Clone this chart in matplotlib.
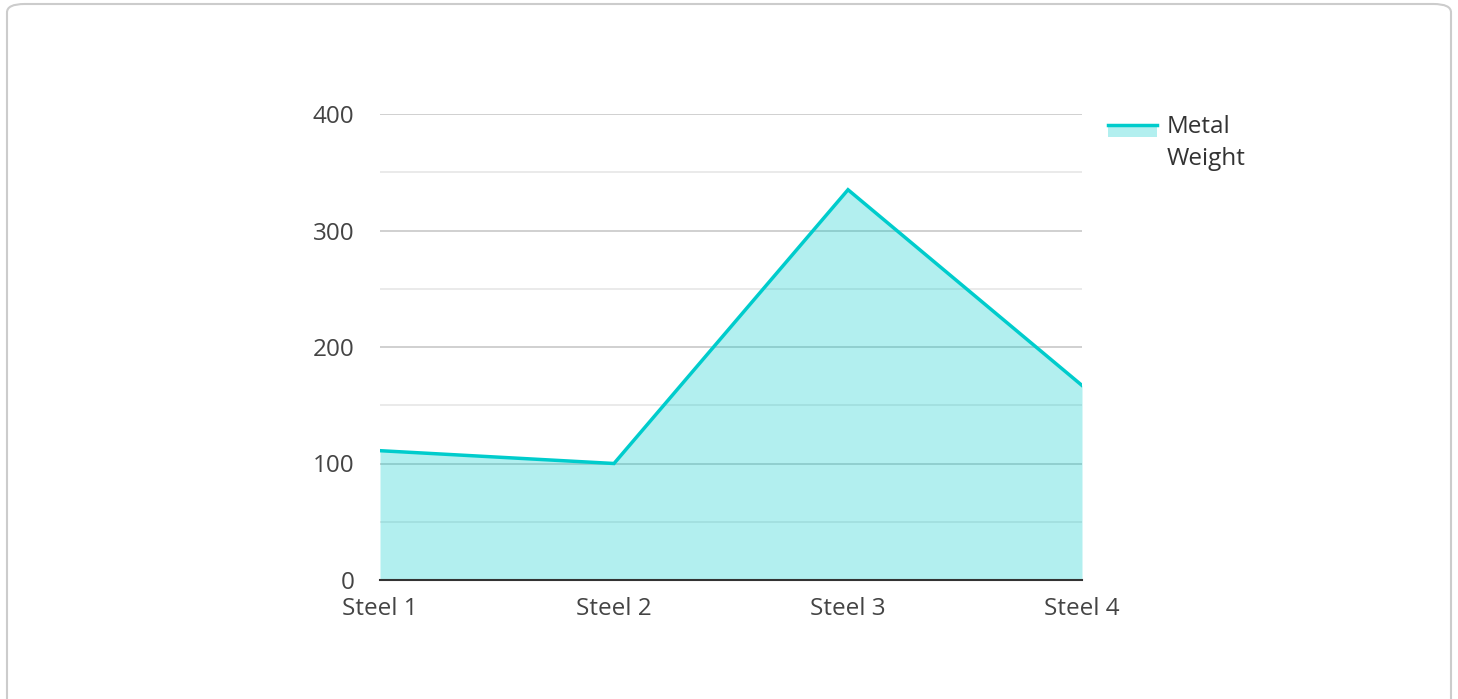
import matplotlib
matplotlib.use("Agg")
import matplotlib.pyplot as plt
from matplotlib.patches import FancyBboxPatch, Rectangle
from matplotlib.lines import Line2D

categories = ["Steel 1", "Steel 2", "Steel 3", "Steel 4"]
weights = [111, 100, 335, 167]
series_name = "Metal\nWeight"
yticks = [0, 100, 200, 300, 400]

plt.rcParams['font.family'] = ['Open Sans', 'Noto Sans', 'DejaVu Sans']

W, H = 1458, 699
fig = plt.figure(figsize=(W / 100, H / 100), dpi=100)

# outer card border
card = FancyBboxPatch((7 / W, -20 / H), (1451 - 7) / W, (699 - 4 + 20) / H,
                      boxstyle="round,pad=0,rounding_size=0.012",
                      transform=fig.transFigure, facecolor="none",
                      edgecolor="#cccccc", linewidth=1.5, zorder=0)
fig.add_artist(card)

ax = fig.add_axes([380 / W, 1 - 580 / H, (1082 - 380) / W, (580 - 114) / H])
ax.set_facecolor("none")
x = list(range(len(categories)))
line_color = "#00cccc"
ax.fill_between(x, weights, 0, color=line_color, alpha=0.3, linewidth=0, zorder=2)
ax.plot(x, weights, color=line_color, linewidth=2.5, zorder=3, solid_joinstyle="miter")

ax.set_xlim(0, len(categories) - 1)
ax.set_ylim(0, 400)
ax.set_yticks(yticks)
ax.set_yticks([50, 150, 250, 350], minor=True)
ax.set_xticks(x)
ax.set_xticklabels(categories)
ax.grid(axis="y", which="major", color="#c8c8c8", linewidth=1.2, zorder=1)
ax.grid(axis="y", which="minor", color="#e6e6e6", linewidth=1.2, zorder=1)
ax.set_axisbelow(True)
for s in ["top", "right", "left"]:
    ax.spines[s].set_visible(False)
ax.spines["bottom"].set_color("#333333")
ax.spines["bottom"].set_linewidth(1.5)
ax.spines["bottom"].set_zorder(4)
ax.tick_params(axis="both", which="both", length=0, labelsize=17.5, colors="#444444")
ax.tick_params(axis="y", pad=18.5)
ax.tick_params(axis="x", pad=12.5)

# legend (manual)
lx0, lx1, ly_line, ly_bot = 1108, 1157, 125, 137
fig.add_artist(Rectangle((lx0 / W, 1 - ly_bot / H), (lx1 - lx0) / W, (ly_bot - ly_line) / H,
                         transform=fig.transFigure, facecolor=line_color, alpha=0.3,
                         edgecolor="none"))
fig.add_artist(Line2D([lx0 / W, lx1 / W], [1 - ly_line / H, 1 - ly_line / H],
                      transform=fig.transFigure, color=line_color, linewidth=2.5))
fig.text(1167 / W, 1 - 115 / H, series_name, ha="left", va="top", fontsize=17.5,
         color="#333333", linespacing=1.45)

fig.savefig("out.png", dpi=100)
